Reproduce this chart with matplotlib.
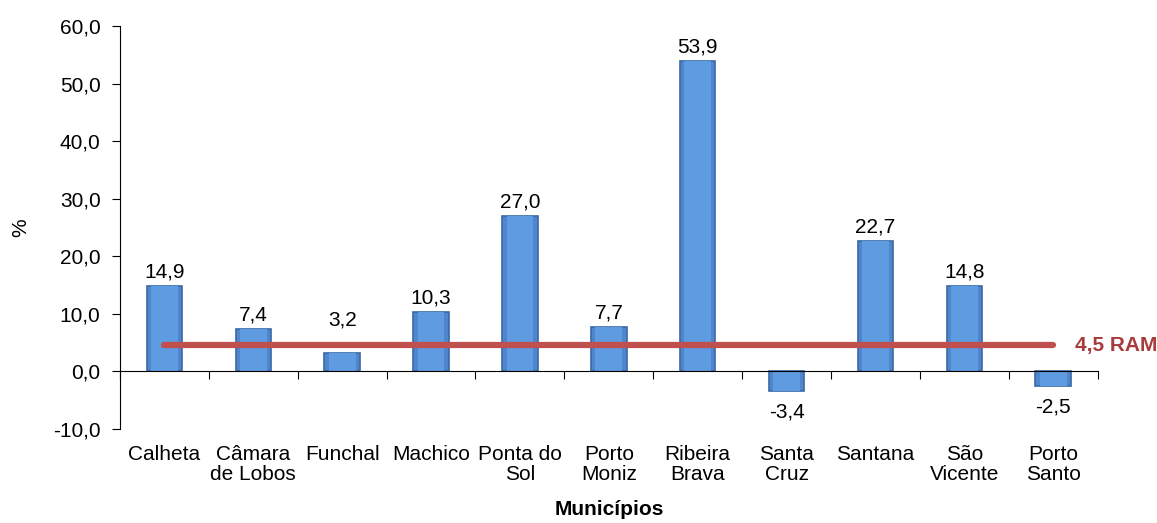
import matplotlib
matplotlib.use("Agg")
import matplotlib.pyplot as plt
import matplotlib.transforms as mtransforms
import numpy as np

plt.rcParams['font.family'] = ['Liberation Sans', 'DejaVu Sans']

# data
municipios = ["Calheta", "Câmara\nde Lobos", "Funchal", "Machico", "Ponta do\nSol",
              "Porto\nMoniz", "Ribeira\nBrava", "Santa\nCruz", "Santana", "São\nVicente",
              "Porto\nSanto"]
valores = [14.9, 7.4, 3.2, 10.3, 27.0, 7.7, 53.9, -3.4, 22.7, 14.8, -2.5]
ram = 4.5
yticks = [-10, 0, 10, 20, 30, 40, 50, 60]

def pt(v):
    return f"{v:.1f}".replace(".", ",")

fig = plt.figure(figsize=(11.57, 5.23), dpi=100)
ax = fig.add_axes([0.1037, 0.180, 0.845, 0.770])

x = np.arange(len(valores))
ax.bar(x, valores, width=0.4, color="#4f86cc", edgecolor="#3a68a6",
       linewidth=1.2, zorder=2)
# lighter inner face to mimic the bevel
ax.bar(x, valores, width=0.3, color="#5e9be0", linewidth=0, zorder=2.5)

for xi, v in zip(x, valores):
    if v >= 0:
        base = max(v, ram + 2.0)
        ax.text(xi, base + 0.8, pt(v), ha="center", va="bottom", fontsize=15)
    else:
        ax.text(xi, v - 2.0, pt(v), ha="center", va="top", fontsize=15)

ax.plot([x[0], x[-1]], [ram, ram], color="#c0504d", linewidth=4.5,
        solid_capstyle="round", zorder=3)
ax.text(x[-1] + 0.24, ram, pt(ram) + " RAM", color="#a83b3b", fontsize=15,
        fontweight="bold", va="center", ha="left")

ax.set_xlim(-0.5, len(valores) - 0.5)
ax.set_ylim(-10, 60)
ax.set_yticks(yticks)
ax.set_yticklabels([pt(t) for t in yticks], fontsize=15)
ax.tick_params(axis="y", direction="out", length=6, pad=8)

ax.spines["top"].set_visible(False)
ax.spines["right"].set_visible(False)
ax.spines["bottom"].set_position(("data", 0))
ax.set_xticks(np.arange(len(valores) + 1) - 0.5)
ax.set_xticklabels([])
ax.tick_params(axis="x", direction="out", length=6)

trans = mtransforms.blended_transform_factory(ax.transData, ax.transAxes)
for xi, name in zip(x, municipios):
    ax.text(xi, -0.04, name, transform=trans, ha="center", va="top",
            fontsize=15, linespacing=1.1)

ax.text(0.5, -0.20, "Municípios", transform=ax.transAxes, ha="center",
        va="center", fontsize=15, fontweight="bold")
ax.set_ylabel("%", fontsize=15, labelpad=16)

fig.savefig("out.png", dpi=100)
